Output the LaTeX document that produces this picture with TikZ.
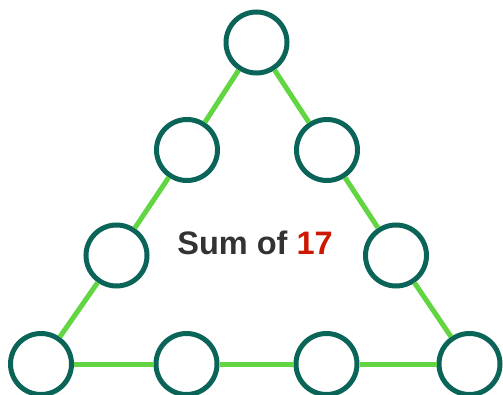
\documentclass[tikz,border=0pt]{standalone}
\usepackage{fontspec}
\setmainfont{Liberation Sans}
\usepackage{tikz}
\usetikzlibrary{positioning, calc}
\definecolor{ringteal}{RGB}{10,100,88}
\definecolor{edgegreen}{RGB}{98,214,66}
\definecolor{sumgray}{RGB}{51,51,51}
\definecolor{sumred}{RGB}{204,24,0}

\begin{document}
\begin{tikzpicture}[x=1pt,y=1pt,
    slot/.style={circle,draw=ringteal,line width=5pt,fill=white,minimum size=61pt,inner sep=0pt},
    side/.style={draw=edgegreen,line width=5pt}]
\useasboundingbox (0,0) rectangle (503,394);
% circles round the triangle
\node[slot] (t)  at (256.5,351.5) {};
\node[slot] (l1) at (187,244) {};
\node[slot] (l2) at (116.5,138.5) {};
\node[slot] (bl) at (41,30) {};
\node[slot] (b1) at (186.5,30) {};
\node[slot] (b2) at (326.5,30) {};
\node[slot] (br) at (469.5,30) {};
\node[slot] (r2) at (396,138.5) {};
\node[slot] (r1) at (327,244) {};
% sides
\draw[side] (t) -- (l1);
\draw[side] (l1) -- (l2);
\draw[side] (l2) -- (bl);
\draw[side] (bl) -- (b1);
\draw[side] (b1) -- (b2);
\draw[side] (b2) -- (br);
\draw[side] (br) -- (r2);
\draw[side] (r2) -- (r1);
\draw[side] (r1) -- (t);
% label
\node[anchor=base,inner sep=0pt,font=\fontsize{32.5}{36}\selectfont\bfseries,text=sumgray] (sum) at (255,140) {Sum of \textcolor{sumred}{17}};
\end{tikzpicture}
\end{document}
